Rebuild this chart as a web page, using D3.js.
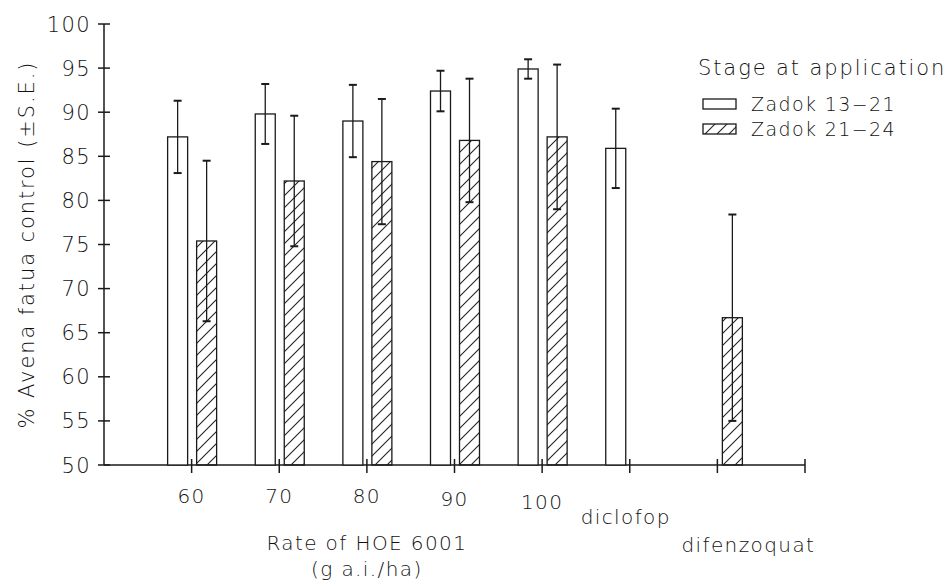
<!DOCTYPE html>
<html>
<head>
<meta charset="utf-8">
<script src="https://cdn.jsdelivr.net/npm/d3@7"></script>
<style>
  body { margin: 0; background: #fff; }
  text { font-family: "DejaVu Sans", sans-serif; font-weight: 200; fill: #111; letter-spacing: 1.4px; }
</style>
</head>
<body>
<div id="chart"></div>
<script>
// treatments along the x axis (rates of HOE 6001 in g a.i./ha, then the standards)
var groups = ["60", "70", "80", "90", "100", "diclofop", "difenzoquat"];
// % Avena fatua control, Zadok 13-21 (open bars)
var earlyMean = [87.2, 89.8, 89.0, 92.4, 94.9, 85.9, null];
var earlySE   = [4.1, 3.4, 4.1, 2.3, 1.1, 4.5, null];
// % Avena fatua control, Zadok 21-24 (hatched bars)
var lateMean  = [75.4, 82.2, 84.4, 86.8, 87.2, null, 66.7];
var lateSE    = [9.1, 7.4, 7.1, 7.0, 8.2, null, 11.7];
var yTicks = [50, 55, 60, 65, 70, 75, 80, 85, 90, 95, 100];
var seriesNames = ["Zadok 13\u221221", "Zadok 21\u221224"];

var width = 948, height = 584;

var svg = d3.select("#chart").append("svg")
  .attr("width", width)
  .attr("height", height);

// hatch for the later stage
var defs = svg.append("defs");
defs.append("pattern")
  .attr("id", "hatch")
  .attr("patternUnits", "userSpaceOnUse")
  .attr("width", 12).attr("height", 12)
  .append("path")
  .attr("d", "M-3,3 L3,-3 M0,12 L12,0 M9,15 L15,9")
  .attr("stroke", "#222")
  .attr("stroke-width", 1.1);

var x = d3.scaleLinear().domain([0, 8]).range([104, 805]);
var y = d3.scaleLinear().domain([50, 100]).range([465, 24]);

var axisColor = "#1a1a1a";

// y axis
svg.append("line")
  .attr("x1", x(0)).attr("x2", x(0))
  .attr("y1", y(50)).attr("y2", y(100))
  .attr("stroke", axisColor).attr("stroke-width", 1.5);
svg.selectAll(".ytick").data(yTicks).enter().append("line")
  .attr("x1", x(0) - 6).attr("x2", x(0) + 6)
  .attr("y1", d => y(d)).attr("y2", d => y(d))
  .attr("stroke", axisColor).attr("stroke-width", 1.5);
svg.selectAll(".ylab").data(yTicks).enter().append("text")
  .attr("x", 91)
  .attr("y", d => y(d))
  .attr("dy", "0.36em")
  .attr("text-anchor", "end")
  .style("font-size", "21px")
  .text(d => d);

svg.append("text")
  .attr("transform", "translate(26," + y(75) + ") rotate(-90)")
  .attr("text-anchor", "middle")
  .attr("dy", "0.36em")
  .style("font-size", "21px")
  .style("letter-spacing", "1.9px")
  .text("% Avena fatua control (\u00b1S.E.)");

// x axis
svg.append("line")
  .attr("x1", x(0)).attr("x2", x(8))
  .attr("y1", y(50)).attr("y2", y(50))
  .attr("stroke", axisColor).attr("stroke-width", 1.5);
svg.selectAll(".xtick").data(d3.range(1, 9)).enter().append("line")
  .attr("x1", d => x(d)).attr("x2", d => x(d))
  .attr("y1", y(50) - 6).attr("y2", y(50) + 8)
  .attr("stroke", axisColor).attr("stroke-width", 1.5);

// tick labels sit a little unevenly in the original
var labelShift = [[0, 31], [0, 31], [0, 31], [0, 34], [0, 37], [-4, 52], [31, 80]];
svg.selectAll(".xlab").data(groups).enter().append("text")
  .attr("x", (d, i) => x(i + 1) + labelShift[i][0])
  .attr("y", (d, i) => y(50) + labelShift[i][1])
  .attr("dy", "0.36em")
  .attr("text-anchor", "middle")
  .style("font-size", "20px")
  .text(d => d);

svg.append("text")
  .attr("x", x(3)).attr("y", 543).attr("dy", "0.36em")
  .attr("text-anchor", "middle")
  .style("font-size", "20px")
  .text("Rate of HOE 6001");
svg.append("text")
  .attr("x", x(3)).attr("y", 569).attr("dy", "0.36em")
  .attr("text-anchor", "middle")
  .style("font-size", "20px")
  .text("(g a.i./ha)");

// bars
var barW = 20;
var series = [
  { mean: earlyMean, se: earlySE, fill: "#fff", off: -24 },
  { mean: lateMean, se: lateSE, fill: "url(#hatch)", off: 5 }
];

series.forEach(function(s) {
  var rows = groups.map((g, i) => ({ i: i, m: s.mean[i], e: s.se[i] }))
    .filter(d => d.m !== null);

  svg.selectAll(null).data(rows).enter().append("rect")
    .attr("x", d => x(d.i + 1) + s.off)
    .attr("y", d => y(d.m))
    .attr("width", barW)
    .attr("height", d => y(50) - y(d.m))
    .attr("fill", s.fill)
    .attr("stroke", axisColor)
    .attr("stroke-width", 1.3);

  var cx = d => x(d.i + 1) + s.off + barW / 2;
  svg.selectAll(null).data(rows).enter().append("line")
    .attr("x1", cx).attr("x2", cx)
    .attr("y1", d => y(d.m - d.e)).attr("y2", d => y(d.m + d.e))
    .attr("stroke", axisColor).attr("stroke-width", 1.3);
  [-1, 1].forEach(function(sign) {
    svg.selectAll(null).data(rows).enter().append("line")
      .attr("x1", d => cx(d) - 4).attr("x2", d => cx(d) + 4)
      .attr("y1", d => y(d.m + sign * d.e)).attr("y2", d => y(d.m + sign * d.e))
      .attr("stroke", axisColor).attr("stroke-width", 2);
  });
});

// legend
var legend = svg.append("g").attr("transform", "translate(698,0)");
legend.append("text")
  .attr("x", 0).attr("y", 67).attr("dy", "0.36em")
  .style("font-size", "21px")
  .style("letter-spacing", "1.9px")
  .text("Stage at application");
var items = legend.selectAll(".item").data(seriesNames).enter().append("g")
  .attr("transform", (d, i) => "translate(0," + (104 + i * 25) + ")");
items.append("rect")
  .attr("x", 5).attr("y", -5)
  .attr("width", 33).attr("height", 10)
  .attr("fill", (d, i) => series[i].fill)
  .attr("stroke", axisColor)
  .attr("stroke-width", 1.3);
items.append("text")
  .attr("x", 53).attr("y", 0).attr("dy", "0.36em")
  .style("font-size", "19px")
  .text(d => d);
</script>
</body>
</html>
